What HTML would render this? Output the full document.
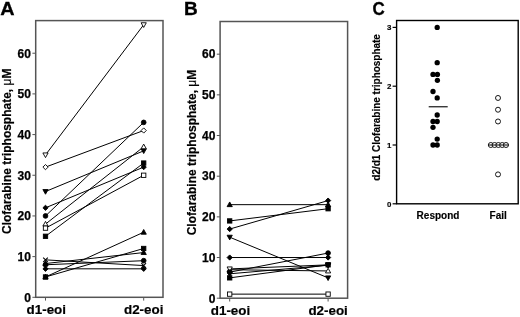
<!DOCTYPE html>
<html><head><meta charset="utf-8"><style>
html,body{margin:0;padding:0;background:#fff;width:520px;height:317px;overflow:hidden}
svg{display:block;will-change:transform}
text{font-family:"Liberation Sans", sans-serif;font-weight:bold;fill:#000}
.pl{font-size:18px;stroke:#000;stroke-width:0.3px}
.tk{font-size:12px;stroke:#000;stroke-width:0.25px}
.xl{font-size:13.4px;stroke:#000;stroke-width:0.2px}
.yt{font-size:12.6px;stroke:#000;stroke-width:0.2px}
.mu{font-weight:normal}
.tkc{font-size:7.9px;stroke:#000;stroke-width:0.15px}
.xc{font-size:10px;stroke:#000;stroke-width:0.15px}
.ytc{font-size:10px;stroke:#000;stroke-width:0.15px}
</style></head><body>
<svg width="520" height="317" viewBox="0 0 520 317">
<rect width="520" height="317" fill="#fff"/>
<text transform="translate(0.3,14.8) scale(1.1,1)" class="pl">A</text>
<text x="183.9" y="15.1" class="pl" style="font-size:19px">B</text>
<text transform="translate(372.4,15.2) scale(0.94,1)" class="pl">C</text>
<rect x="35.7" y="20.6" width="127.3" height="276.7" fill="none" stroke="#555" stroke-width="1.5"/>
<line x1="32.400000000000006" y1="297.30" x2="35.7" y2="297.30" stroke="#555" stroke-width="1"/>
<text x="30.9" y="301.60" text-anchor="end" class="tk">0</text>
<line x1="32.400000000000006" y1="256.62" x2="35.7" y2="256.62" stroke="#555" stroke-width="1"/>
<text x="30.9" y="260.92" text-anchor="end" class="tk">10</text>
<line x1="32.400000000000006" y1="215.94" x2="35.7" y2="215.94" stroke="#555" stroke-width="1"/>
<text x="30.9" y="220.24" text-anchor="end" class="tk">20</text>
<line x1="32.400000000000006" y1="175.26" x2="35.7" y2="175.26" stroke="#555" stroke-width="1"/>
<text x="30.9" y="179.56" text-anchor="end" class="tk">30</text>
<line x1="32.400000000000006" y1="134.58" x2="35.7" y2="134.58" stroke="#555" stroke-width="1"/>
<text x="30.9" y="138.88" text-anchor="end" class="tk">40</text>
<line x1="32.400000000000006" y1="93.90" x2="35.7" y2="93.90" stroke="#555" stroke-width="1"/>
<text x="30.9" y="98.20" text-anchor="end" class="tk">50</text>
<line x1="32.400000000000006" y1="53.22" x2="35.7" y2="53.22" stroke="#555" stroke-width="1"/>
<text x="30.9" y="57.52" text-anchor="end" class="tk">60</text>
<line x1="45.5" y1="297.3" x2="45.5" y2="300.6" stroke="#555" stroke-width="1"/>
<line x1="143.7" y1="297.3" x2="143.7" y2="300.6" stroke="#555" stroke-width="1"/>
<text x="46.3" y="314.0" text-anchor="middle" class="xl">d1-eoi</text>
<text x="143.7" y="314.0" text-anchor="middle" class="xl">d2-eoi</text>
<text transform="translate(11.3,234.0) rotate(-90)" class="yt" textLength="165.4" lengthAdjust="spacingAndGlyphs">Clofarabine triphosphate, <tspan class="mu">μ</tspan>M</text>
<line x1="45.5" y1="154.92" x2="143.7" y2="24.74" stroke="#000" stroke-width="1.0"/>
<line x1="45.5" y1="167.12" x2="143.7" y2="130.51" stroke="#000" stroke-width="1.0"/>
<line x1="45.5" y1="191.53" x2="143.7" y2="150.85" stroke="#000" stroke-width="1.0"/>
<line x1="45.5" y1="207.80" x2="143.7" y2="167.12" stroke="#000" stroke-width="1.0"/>
<line x1="45.5" y1="215.94" x2="143.7" y2="122.38" stroke="#000" stroke-width="1.0"/>
<line x1="45.5" y1="224.08" x2="143.7" y2="146.78" stroke="#000" stroke-width="1.0"/>
<line x1="45.5" y1="228.14" x2="143.7" y2="175.26" stroke="#000" stroke-width="1.0"/>
<line x1="45.5" y1="236.28" x2="143.7" y2="163.06" stroke="#000" stroke-width="1.0"/>
<line x1="45.5" y1="259.87" x2="143.7" y2="265.57" stroke="#000" stroke-width="1.0"/>
<line x1="45.5" y1="264.76" x2="143.7" y2="260.69" stroke="#000" stroke-width="1.0"/>
<line x1="45.5" y1="263.54" x2="143.7" y2="252.55" stroke="#000" stroke-width="1.0"/>
<line x1="45.5" y1="268.82" x2="143.7" y2="268.82" stroke="#000" stroke-width="1.0"/>
<line x1="45.5" y1="276.96" x2="143.7" y2="248.48" stroke="#000" stroke-width="1.0"/>
<line x1="45.5" y1="276.96" x2="143.7" y2="232.21" stroke="#000" stroke-width="1.0"/>
<path d="M42.89 152.94L48.11 152.94L45.50 157.62Z" fill="#fff" stroke="#000" stroke-width="0.9"/>
<path d="M141.09 22.76L146.31 22.76L143.70 27.44Z" fill="#fff" stroke="#000" stroke-width="0.9"/>
<path d="M45.50 164.51L48.11 167.12L45.50 169.73L42.89 167.12Z" fill="#fff" stroke="#000" stroke-width="0.9"/>
<path d="M143.70 127.90L146.31 130.51L143.70 133.12L141.09 130.51Z" fill="#fff" stroke="#000" stroke-width="0.9"/>
<path d="M42.89 189.55L48.11 189.55L45.50 194.23Z" fill="#000" stroke="#000" stroke-width="0.9"/>
<path d="M141.09 148.87L146.31 148.87L143.70 153.55Z" fill="#000" stroke="#000" stroke-width="0.9"/>
<path d="M45.50 205.19L48.11 207.80L45.50 210.41L42.89 207.80Z" fill="#000" stroke="#000" stroke-width="0.9"/>
<path d="M143.70 164.51L146.31 167.12L143.70 169.73L141.09 167.12Z" fill="#000" stroke="#000" stroke-width="0.9"/>
<circle cx="45.50" cy="215.94" r="2.34" fill="#000" stroke="#000" stroke-width="0.9"/>
<circle cx="143.70" cy="122.38" r="2.34" fill="#000" stroke="#000" stroke-width="0.9"/>
<path d="M42.89 226.06L48.11 226.06L45.50 221.38Z" fill="#fff" stroke="#000" stroke-width="0.9"/>
<path d="M141.09 148.76L146.31 148.76L143.70 144.08Z" fill="#fff" stroke="#000" stroke-width="0.9"/>
<rect x="43.34" y="225.98" width="4.32" height="4.32" fill="#fff" stroke="#000" stroke-width="0.9"/>
<rect x="141.54" y="173.10" width="4.32" height="4.32" fill="#fff" stroke="#000" stroke-width="0.9"/>
<rect x="43.34" y="234.12" width="4.32" height="4.32" fill="#000" stroke="#000" stroke-width="0.9"/>
<rect x="141.54" y="160.90" width="4.32" height="4.32" fill="#000" stroke="#000" stroke-width="0.9"/>
<path d="M43.16 257.53L47.84 262.21M43.16 262.21L47.84 257.53" stroke="#000" stroke-width="1.1" fill="none"/>
<path d="M141.36 263.23L146.04 267.91M141.36 267.91L146.04 263.23" stroke="#000" stroke-width="1.1" fill="none"/>
<circle cx="45.50" cy="264.76" r="2.34" fill="#000" stroke="#000" stroke-width="0.9"/>
<circle cx="143.70" cy="260.69" r="2.34" fill="#000" stroke="#000" stroke-width="0.9"/>
<path d="M42.89 265.52L48.11 265.52L45.50 260.84Z" fill="#000" stroke="#000" stroke-width="0.9"/>
<path d="M141.09 254.53L146.31 254.53L143.70 249.85Z" fill="#000" stroke="#000" stroke-width="0.9"/>
<path d="M45.50 266.21L48.11 268.82L45.50 271.43L42.89 268.82Z" fill="#000" stroke="#000" stroke-width="0.9"/>
<path d="M143.70 266.21L146.31 268.82L143.70 271.43L141.09 268.82Z" fill="#000" stroke="#000" stroke-width="0.9"/>
<rect x="43.34" y="274.80" width="4.32" height="4.32" fill="#000" stroke="#000" stroke-width="0.9"/>
<rect x="141.54" y="246.32" width="4.32" height="4.32" fill="#000" stroke="#000" stroke-width="0.9"/>
<path d="M42.89 278.94L48.11 278.94L45.50 274.26Z" fill="#000" stroke="#000" stroke-width="0.9"/>
<path d="M141.09 234.19L146.31 234.19L143.70 229.51Z" fill="#000" stroke="#000" stroke-width="0.9"/>
<rect x="220.1" y="21.5" width="127.50000000000003" height="276.7" fill="none" stroke="#555" stroke-width="1.5"/>
<line x1="216.79999999999998" y1="298.20" x2="220.1" y2="298.20" stroke="#555" stroke-width="1"/>
<text x="215.4" y="302.50" text-anchor="end" class="tk">0</text>
<line x1="216.79999999999998" y1="257.53" x2="220.1" y2="257.53" stroke="#555" stroke-width="1"/>
<text x="215.4" y="261.83" text-anchor="end" class="tk">10</text>
<line x1="216.79999999999998" y1="216.86" x2="220.1" y2="216.86" stroke="#555" stroke-width="1"/>
<text x="215.4" y="221.16" text-anchor="end" class="tk">20</text>
<line x1="216.79999999999998" y1="176.19" x2="220.1" y2="176.19" stroke="#555" stroke-width="1"/>
<text x="215.4" y="180.49" text-anchor="end" class="tk">30</text>
<line x1="216.79999999999998" y1="135.52" x2="220.1" y2="135.52" stroke="#555" stroke-width="1"/>
<text x="215.4" y="139.82" text-anchor="end" class="tk">40</text>
<line x1="216.79999999999998" y1="94.85" x2="220.1" y2="94.85" stroke="#555" stroke-width="1"/>
<text x="215.4" y="99.15" text-anchor="end" class="tk">50</text>
<line x1="216.79999999999998" y1="54.18" x2="220.1" y2="54.18" stroke="#555" stroke-width="1"/>
<text x="215.4" y="58.48" text-anchor="end" class="tk">60</text>
<line x1="229.7" y1="298.2" x2="229.7" y2="301.5" stroke="#555" stroke-width="1"/>
<line x1="328.1" y1="298.2" x2="328.1" y2="301.5" stroke="#555" stroke-width="1"/>
<text x="230.5" y="314.9" text-anchor="middle" class="xl">d1-eoi</text>
<text x="328.1" y="314.9" text-anchor="middle" class="xl">d2-eoi</text>
<text transform="translate(195.6,235.3) rotate(-90)" class="yt" textLength="165.6" lengthAdjust="spacingAndGlyphs">Clofarabine triphosphate, <tspan class="mu">μ</tspan>M</text>
<line x1="229.7" y1="220.93" x2="328.1" y2="208.73" stroke="#000" stroke-width="1.0"/>
<line x1="229.7" y1="204.66" x2="328.1" y2="204.66" stroke="#000" stroke-width="1.0"/>
<line x1="229.7" y1="229.06" x2="328.1" y2="200.59" stroke="#000" stroke-width="1.0"/>
<line x1="229.7" y1="237.19" x2="328.1" y2="277.87" stroke="#000" stroke-width="1.0"/>
<line x1="229.7" y1="257.53" x2="328.1" y2="257.53" stroke="#000" stroke-width="1.0"/>
<line x1="229.7" y1="269.73" x2="328.1" y2="270.95" stroke="#000" stroke-width="1.0"/>
<line x1="229.7" y1="268.92" x2="328.1" y2="264.85" stroke="#000" stroke-width="1.0"/>
<line x1="229.7" y1="277.87" x2="328.1" y2="264.85" stroke="#000" stroke-width="1.0"/>
<line x1="229.7" y1="273.80" x2="328.1" y2="265.26" stroke="#000" stroke-width="1.0"/>
<line x1="229.7" y1="272.17" x2="328.1" y2="253.06" stroke="#000" stroke-width="1.0"/>
<line x1="229.7" y1="294.13" x2="328.1" y2="294.13" stroke="#000" stroke-width="1.0"/>
<rect x="227.54" y="218.77" width="4.32" height="4.32" fill="#000" stroke="#000" stroke-width="0.9"/>
<rect x="325.94" y="206.57" width="4.32" height="4.32" fill="#000" stroke="#000" stroke-width="0.9"/>
<path d="M227.09 206.64L232.31 206.64L229.70 201.96Z" fill="#000" stroke="#000" stroke-width="0.9"/>
<path d="M325.49 206.64L330.71 206.64L328.10 201.96Z" fill="#000" stroke="#000" stroke-width="0.9"/>
<path d="M229.70 226.45L232.31 229.06L229.70 231.67L227.09 229.06Z" fill="#000" stroke="#000" stroke-width="0.9"/>
<path d="M328.10 197.98L330.71 200.59L328.10 203.20L325.49 200.59Z" fill="#000" stroke="#000" stroke-width="0.9"/>
<path d="M227.09 235.22L232.31 235.22L229.70 239.89Z" fill="#000" stroke="#000" stroke-width="0.9"/>
<path d="M325.49 275.88L330.71 275.88L328.10 280.56Z" fill="#000" stroke="#000" stroke-width="0.9"/>
<path d="M229.70 254.92L232.31 257.53L229.70 260.14L227.09 257.53Z" fill="#000" stroke="#000" stroke-width="0.9"/>
<path d="M328.10 254.92L330.71 257.53L328.10 260.14L325.49 257.53Z" fill="#000" stroke="#000" stroke-width="0.9"/>
<path d="M227.09 271.71L232.31 271.71L229.70 267.03Z" fill="#fff" stroke="#000" stroke-width="0.9"/>
<path d="M325.49 272.93L330.71 272.93L328.10 268.25Z" fill="#fff" stroke="#000" stroke-width="0.9"/>
<path d="M227.09 266.94L232.31 266.94L229.70 271.62Z" fill="#fff" stroke="#000" stroke-width="0.9"/>
<path d="M325.49 262.87L330.71 262.87L328.10 267.55Z" fill="#fff" stroke="#000" stroke-width="0.9"/>
<rect x="227.54" y="275.70" width="4.32" height="4.32" fill="#000" stroke="#000" stroke-width="0.9"/>
<rect x="325.94" y="262.69" width="4.32" height="4.32" fill="#000" stroke="#000" stroke-width="0.9"/>
<path d="M227.09 271.82L232.31 271.82L229.70 276.50Z" fill="#000" stroke="#000" stroke-width="0.9"/>
<path d="M325.49 263.28L330.71 263.28L328.10 267.96Z" fill="#000" stroke="#000" stroke-width="0.9"/>
<circle cx="229.70" cy="272.17" r="2.34" fill="#000" stroke="#000" stroke-width="0.9"/>
<circle cx="328.10" cy="253.06" r="2.34" fill="#000" stroke="#000" stroke-width="0.9"/>
<rect x="227.54" y="291.97" width="4.32" height="4.32" fill="#fff" stroke="#000" stroke-width="0.9"/>
<rect x="325.94" y="291.97" width="4.32" height="4.32" fill="#fff" stroke="#000" stroke-width="0.9"/>
<rect x="396.6" y="20.5" width="121.60000000000002" height="183.3" fill="none" stroke="#000" stroke-width="1.4"/>
<line x1="392.6" y1="203.80" x2="396.6" y2="203.80" stroke="#000" stroke-width="1.2"/>
<text x="391.5" y="206.60" text-anchor="end" class="tkc">0</text>
<line x1="392.6" y1="145.00" x2="396.6" y2="145.00" stroke="#000" stroke-width="1.2"/>
<text x="391.5" y="147.80" text-anchor="end" class="tkc">1</text>
<line x1="392.6" y1="86.20" x2="396.6" y2="86.20" stroke="#000" stroke-width="1.2"/>
<text x="391.5" y="89.00" text-anchor="end" class="tkc">2</text>
<line x1="392.6" y1="27.40" x2="396.6" y2="27.40" stroke="#000" stroke-width="1.2"/>
<text x="391.5" y="30.20" text-anchor="end" class="tkc">3</text>
<text x="438" y="218.9" text-anchor="middle" class="xc">Respond</text>
<text x="498.2" y="218.6" text-anchor="middle" class="xc">Fail</text>
<text transform="translate(380.4,180.7) rotate(-90)" class="ytc" textLength="146.6" lengthAdjust="spacingAndGlyphs">d2/d1 Clofarabine triphosphate</text>
<circle cx="437.2" cy="27.40" r="2.65" fill="#000"/>
<circle cx="437.2" cy="62.68" r="2.65" fill="#000"/>
<circle cx="433" cy="74.44" r="2.65" fill="#000"/>
<circle cx="437.4" cy="74.44" r="2.65" fill="#000"/>
<circle cx="437.4" cy="80.32" r="2.65" fill="#000"/>
<circle cx="433" cy="91.49" r="2.65" fill="#000"/>
<circle cx="437.2" cy="97.96" r="2.65" fill="#000"/>
<circle cx="437.2" cy="115.01" r="2.65" fill="#000"/>
<circle cx="433" cy="121.48" r="2.65" fill="#000"/>
<circle cx="437.2" cy="121.48" r="2.65" fill="#000"/>
<circle cx="433" cy="127.36" r="2.65" fill="#000"/>
<circle cx="437.2" cy="139.12" r="2.65" fill="#000"/>
<circle cx="433" cy="145.00" r="2.65" fill="#000"/>
<circle cx="437.2" cy="145.00" r="2.65" fill="#000"/>
<circle cx="498" cy="97.96" r="2.5" fill="#fff" stroke="#000" stroke-width="0.9"/>
<circle cx="498" cy="109.72" r="2.5" fill="#fff" stroke="#000" stroke-width="0.9"/>
<circle cx="498" cy="121.48" r="2.5" fill="#fff" stroke="#000" stroke-width="0.9"/>
<circle cx="490.8" cy="145.00" r="2.5" fill="#fff" stroke="#000" stroke-width="0.9"/>
<circle cx="494.6" cy="145.00" r="2.5" fill="#fff" stroke="#000" stroke-width="0.9"/>
<circle cx="498.4" cy="145.00" r="2.5" fill="#fff" stroke="#000" stroke-width="0.9"/>
<circle cx="502.2" cy="145.00" r="2.5" fill="#fff" stroke="#000" stroke-width="0.9"/>
<circle cx="506" cy="145.00" r="2.5" fill="#fff" stroke="#000" stroke-width="0.9"/>
<circle cx="498" cy="174.40" r="2.5" fill="#fff" stroke="#000" stroke-width="0.9"/>
<line x1="428.7" y1="106.78" x2="447.7" y2="106.78" stroke="#000" stroke-width="1.1"/>
<line x1="488.3" y1="145.00" x2="508.6" y2="145.00" stroke="#000" stroke-width="1.0"/>
</svg>
</body></html>
